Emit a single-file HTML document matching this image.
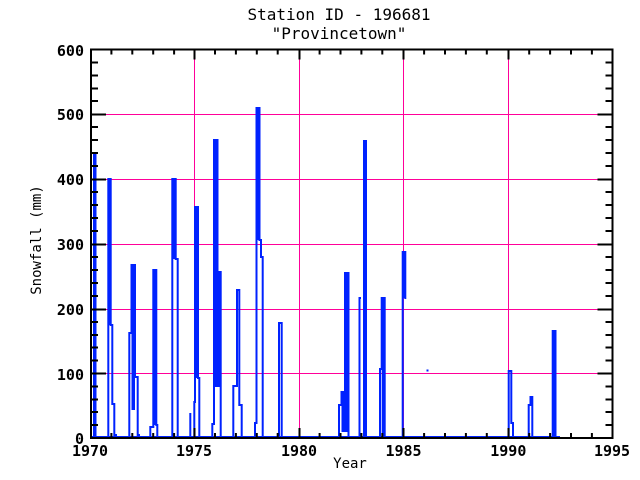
<!DOCTYPE html>
<html><head><meta charset="utf-8"><style>
html,body{margin:0;padding:0;background:#fff;}
svg{display:block;}
text{font-family:"DejaVu Sans Mono","Liberation Mono",monospace;fill:#000;}
</style></head><body>
<svg width="640" height="480" viewBox="0 0 640 480" xmlns="http://www.w3.org/2000/svg">
<rect width="640" height="480" fill="#fff"/>
<text x="339" y="20" font-size="16" text-anchor="middle">Station ID - 196681</text>
<text x="339" y="39" font-size="16" text-anchor="middle">"Provincetown"</text>
<!-- grid -->
<g stroke="#ff0099" stroke-width="1" shape-rendering="crispEdges">
<line x1="91" y1="114.5" x2="612" y2="114.5"/>
<line x1="91" y1="179.5" x2="612" y2="179.5"/>
<line x1="91" y1="244.5" x2="612" y2="244.5"/>
<line x1="91" y1="309.5" x2="612" y2="309.5"/>
<line x1="91" y1="373.5" x2="612" y2="373.5"/>
<line x1="194.5" y1="50" x2="194.5" y2="438"/>
<line x1="299.5" y1="50" x2="299.5" y2="438"/>
<line x1="403.5" y1="50" x2="403.5" y2="438"/>
<line x1="508.5" y1="50" x2="508.5" y2="438"/>
</g>
<!-- data -->
<g stroke="#0022ff" stroke-width="2" fill="none">
<line x1="91" y1="437" x2="560" y2="437"/>
<polyline points="94,437 94,153 95.5,153 95.5,437"/>
<polyline points="108.3,437 108.3,179 110.7,179 110.7,325 112.3,325 112.3,404 114.3,404 114.3,435 116,435 116,437"/>
<polyline points="129.3,437 129.3,333 131.5,333 131.5,265 135,265 135,377 137.7,377 137.7,435 139,435 139,437"/>
<polyline points="150.3,437 150.3,427 153.3,427 153.3,270 156.3,270 156.3,425 157.3,425 157.3,437"/>
<polyline points="172.3,437 172.3,179 175.7,179 175.7,259 177.7,259 177.7,437"/>
<polyline points="190.3,437 190.3,414 191.3,414"/>
<polyline points="194.3,437 194.3,402 195,402 195,207 198,207 198,378 199.3,378 199.3,437"/>
<polyline points="212.3,437 212.3,424 214,424 214,140 217.5,140 217.5,272 220.7,272 220.7,437"/>
<polyline points="233.3,437 233.3,386 237,386 237,290 239.3,290 239.3,405 241.7,405 241.7,437"/>
<polyline points="255,437 255,423 256.5,423 256.5,108 259.5,108 259.5,240 261,240 261,257 262.7,257 262.7,437"/>
<polyline points="279,437 279,323 281.7,323 281.7,437"/>
<polyline points="339,437 339,405 341.5,405 341.5,392 345,392 345,273 348.5,273 348.5,437"/>
<polyline points="359.5,437 359.5,298 361,298"/>
<polyline points="364,437 364,141 366,141 366,437"/>
<polyline points="380,437 380,369 381.7,369 381.7,298 384.7,298 384.7,437"/>
<polyline points="402.7,437 402.7,252 405.3,252 405.3,298 406.3,298"/>
<polyline points="508.7,437 508.7,371 511.3,371 511.3,423 513,423 513,437"/>
<polyline points="528.7,437 528.7,405 530.5,405 530.5,397 532.3,397 532.3,437"/>
<polyline points="552.7,437 552.7,331 555.5,331 555.5,437"/>
</g>
<g fill="#0022ff">
<rect x="108.3" y="179" width="2.4" height="146"/>
<rect x="131.5" y="265" width="3.5" height="145"/>
<rect x="153.3" y="270" width="2.8" height="155"/>
<rect x="172.3" y="179" width="3.3" height="80"/>
<rect x="195" y="207" width="3" height="171"/>
<rect x="214" y="140" width="3.5" height="247"/>
<rect x="217.5" y="272" width="2.5" height="115"/>
<rect x="256.5" y="108" width="3" height="132"/>
<rect x="345" y="273" width="3.5" height="159"/>
<rect x="341.5" y="392" width="3.5" height="40"/>
<rect x="381.7" y="298" width="3" height="139"/>
<rect x="402.7" y="252" width="2.6" height="46"/>
<rect x="552.7" y="331" width="2.8" height="106"/>
<rect x="426.5" y="369.5" width="2" height="2"/>
</g>
<!-- axes frame -->
<rect x="91" y="49.5" width="521.5" height="388.5" fill="none" stroke="#000" stroke-width="2"/>
<g stroke="#000" stroke-width="2">
<path d="M91 49.5h15M91 114.5h15M91 179.5h15M91 244.5h15M91 309.5h15M91 373.5h15M91 438h15"/>
<path d="M612.5 49.5h-15M612.5 114.5h-15M612.5 179.5h-15M612.5 244.5h-15M612.5 309.5h-15M612.5 373.5h-15M612.5 438h-15"/>
<path d="M91 62.5h7M91 75.5h7M91 88.5h7M91 101h7M91 127h7M91 140h7M91 153h7M91 166h7M91 192h7M91 205h7M91 218h7M91 231h7M91 257h7M91 270h7M91 283h7M91 296h7M91 322h7M91 335h7M91 347.5h7M91 360.5h7M91 386.5h7M91 399.5h7M91 412h7M91 425h7"/>
<path d="M612.5 62.5h-7M612.5 75.5h-7M612.5 88.5h-7M612.5 101h-7M612.5 127h-7M612.5 140h-7M612.5 153h-7M612.5 166h-7M612.5 192h-7M612.5 205h-7M612.5 218h-7M612.5 231h-7M612.5 257h-7M612.5 270h-7M612.5 283h-7M612.5 296h-7M612.5 322h-7M612.5 335h-7M612.5 347.5h-7M612.5 360.5h-7M612.5 386.5h-7M612.5 399.5h-7M612.5 412h-7M612.5 425h-7"/>
<path d="M194.5 438v-10M299.5 438v-10M403.5 438v-10M508.5 438v-10M194.5 49.5v10M299.5 49.5v10M403.5 49.5v10M508.5 49.5v10"/>
<path d="M111.4 438v-5M132.3 438v-5M153.2 438v-5M174.1 438v-5M215 438v-5M235.9 438v-5M256.8 438v-5M277.7 438v-5M319.6 438v-5M340.5 438v-5M361.4 438v-5M382.3 438v-5M424.1 438v-5M445 438v-5M465.9 438v-5M486.8 438v-5M529.2 438v-5M550.1 438v-5M571 438v-5M591.9 438v-5"/>
<path d="M111.4 49.5v5M132.3 49.5v5M153.2 49.5v5M174.1 49.5v5M215 49.5v5M235.9 49.5v5M256.8 49.5v5M277.7 49.5v5M319.6 49.5v5M340.5 49.5v5M361.4 49.5v5M382.3 49.5v5M424.1 49.5v5M445 49.5v5M465.9 49.5v5M486.8 49.5v5M529.2 49.5v5M550.1 49.5v5M571 49.5v5M591.9 49.5v5"/>
</g>
<g font-size="15" font-weight="bold" text-anchor="end">
<text x="84" y="56">600</text>
<text x="84" y="120">500</text>
<text x="84" y="185">400</text>
<text x="84" y="250">300</text>
<text x="84" y="315">200</text>
<text x="84" y="380">100</text>
<text x="84" y="444">0</text>
</g>
<g font-size="15" font-weight="bold" text-anchor="middle">
<text x="90" y="456">1970</text>
<text x="194" y="456">1975</text>
<text x="299" y="456">1980</text>
<text x="403.5" y="456">1985</text>
<text x="508.3" y="456">1990</text>
<text x="612" y="456">1995</text>
</g>
<text x="350" y="468" font-size="14" text-anchor="middle">Year</text>
<text x="0" y="0" font-size="14" text-anchor="middle" transform="translate(41,240) rotate(-90)">Snowfall (mm)</text>
</svg>
</body></html>
